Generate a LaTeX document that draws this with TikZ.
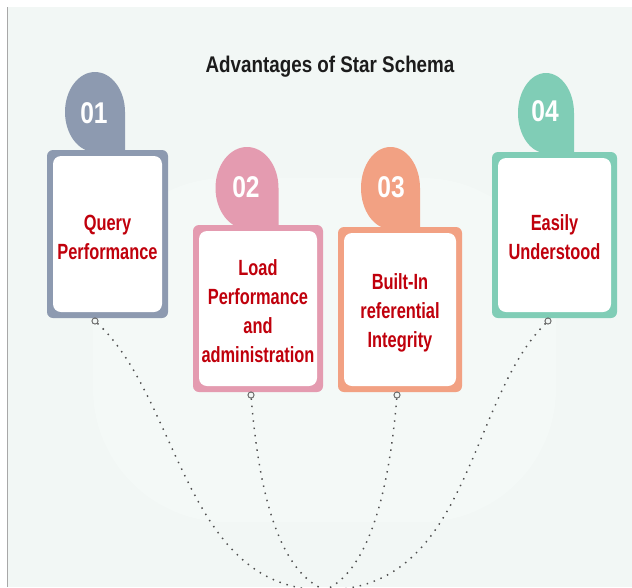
\documentclass[tikz,border=0pt]{standalone}
\usepackage{fontspec}
\setmainfont{Liberation Sans}
\newfontfamily\headfont{Liberation Sans}[FakeStretch=0.83]
\newfontfamily\numfont{Liberation Sans}[FakeStretch=0.82]
\newfontfamily\labelfont{Liberation Sans}[FakeStretch=0.745]

\definecolor{panel}{HTML}{F2F7F5}
\definecolor{glow}{HTML}{F4F9F7}
\definecolor{edge}{HTML}{A8A8A8}
\definecolor{slate}{HTML}{8D9AB0}
\definecolor{rose}{HTML}{E49BB0}
\definecolor{salmon}{HTML}{F2A183}
\definecolor{mint}{HTML}{80CDB6}
\definecolor{ink}{HTML}{C0000C}
\definecolor{headink}{HTML}{1C1C1C}
\definecolor{dotc}{HTML}{505050}

\tikzset{
  frame/.style={rectangle, rounded corners=4.5pt, inner sep=0pt, draw=none},
  card/.style={rectangle, rounded corners=6pt, fill=white, inner sep=0pt},
  label/.style={inner sep=0pt, align=center, text=ink,
    font=\labelfont\bfseries\fontsize{16.5}{21.75}\selectfont},
  num/.style={inner sep=0pt, text=white, font=\numfont\bfseries\fontsize{22.5}{26}\selectfont},
  pin/.style={circle, draw=gray!80!black, fill=panel, line width=0.6pt,
    minimum size=4.5pt, inner sep=0pt},
  link/.style={draw=dotc, line width=1.1pt, dash pattern=on 1.1pt off 4.4pt},
  heading/.style={inner sep=0pt, text=headink, font=\headfont\bfseries\fontsize{17}{20}\selectfont}
}

\begin{document}
\begin{tikzpicture}[x=0.75pt, y=-0.75pt]
\useasboundingbox (0,0) rectangle (632,587);
\clip (0,0) rectangle (632,587);

% page background and panel
\fill[white] (0,0) rectangle (632,587);
\fill[panel] (8,7) rectangle (632,587);
\draw[edge, line width=1.1pt] (7.5,7) -- (7.5,587);
\fill[glow, rounded corners=100pt] (93,178) rectangle (556,522);

% heading
\node[heading] (title) at (330,67) {Advantages of Star Schema};

% number tabs (teardrops with a square lower-right corner)
\fill[slate]  (125,112)   arc[start angle=0, end angle=-270, x radius=30,   y radius=40] -- (125,152)   -- cycle;
\fill[rose]   (278.5,188) arc[start angle=0, end angle=-270, x radius=31.5, y radius=41] -- (278.5,229) -- cycle;
\fill[salmon] (420,188)   arc[start angle=0, end angle=-270, x radius=29.5, y radius=41] -- (420,229)   -- cycle;
\fill[mint]   (574,113)   arc[start angle=0, end angle=-270, x radius=28,   y radius=40] -- (574,153)   -- cycle;

\node[num] (n1) at (94,113)  {01};
\node[num] (n2) at (246,187) {02};
\node[num] (n3) at (391,187) {03};
\node[num] (n4) at (545,111) {04};

% card frames
\node[frame, fill=slate,  minimum width=121*0.75pt, minimum height=168*0.75pt] (f1) at (107.5,234) {};
\node[frame, fill=rose,   minimum width=130*0.75pt, minimum height=167*0.75pt] (f2) at (258,308.5) {};
\node[frame, fill=salmon, minimum width=124*0.75pt, minimum height=165*0.75pt] (f3) at (400,309.5) {};
\node[frame, fill=mint,   minimum width=125*0.75pt, minimum height=166*0.75pt] (f4) at (554.5,235) {};

% white card faces
\node[card, minimum width=109*0.75pt, minimum height=156*0.75pt] (b1) at (f1) {};
\node[card, minimum width=118*0.75pt, minimum height=155*0.75pt] (b2) at (f2) {};
\node[card, minimum width=112*0.75pt, minimum height=153*0.75pt] (b3) at (f3) {};
\node[card, minimum width=113*0.75pt, minimum height=154*0.75pt] (b4) at (f4) {};

% card labels
\node[label] (t1) at ([yshift=-2.2pt]b1.center) {Query\\Performance};
\node[label] (t2) at ([yshift=-2.2pt]b2.center) {Load\\Performance\\and\\administration};
\node[label] (t3) at ([yshift=-2.2pt]b3.center) {Built-In\\referential\\Integrity};
\node[label] (t4) at ([yshift=-1.5pt]b4.center) {Easily\\Understood};

% dotted links meeting below the panel
\coordinate (hub) at (325,590);
\node[pin] (p1) at (95,321)  {};
\node[pin] (p2) at (251,395) {};
\node[pin] (p3) at (397,395) {};
\node[pin] (p4) at (548,321) {};

\draw[link] (p1) .. controls (180,400) and (185,590) .. (hub);
\draw[link] (p2) .. controls (258,480) and (275,570) .. (hub);
\draw[link] (p3) .. controls (390,480) and (372,570) .. (hub);
\draw[link] (p4) .. controls (468,400) and (470,590) .. (hub);

% redraw pins over the link ends
\node[pin] at (p1) {};
\node[pin] at (p2) {};
\node[pin] at (p3) {};
\node[pin] at (p4) {};
\end{tikzpicture}
\end{document}
